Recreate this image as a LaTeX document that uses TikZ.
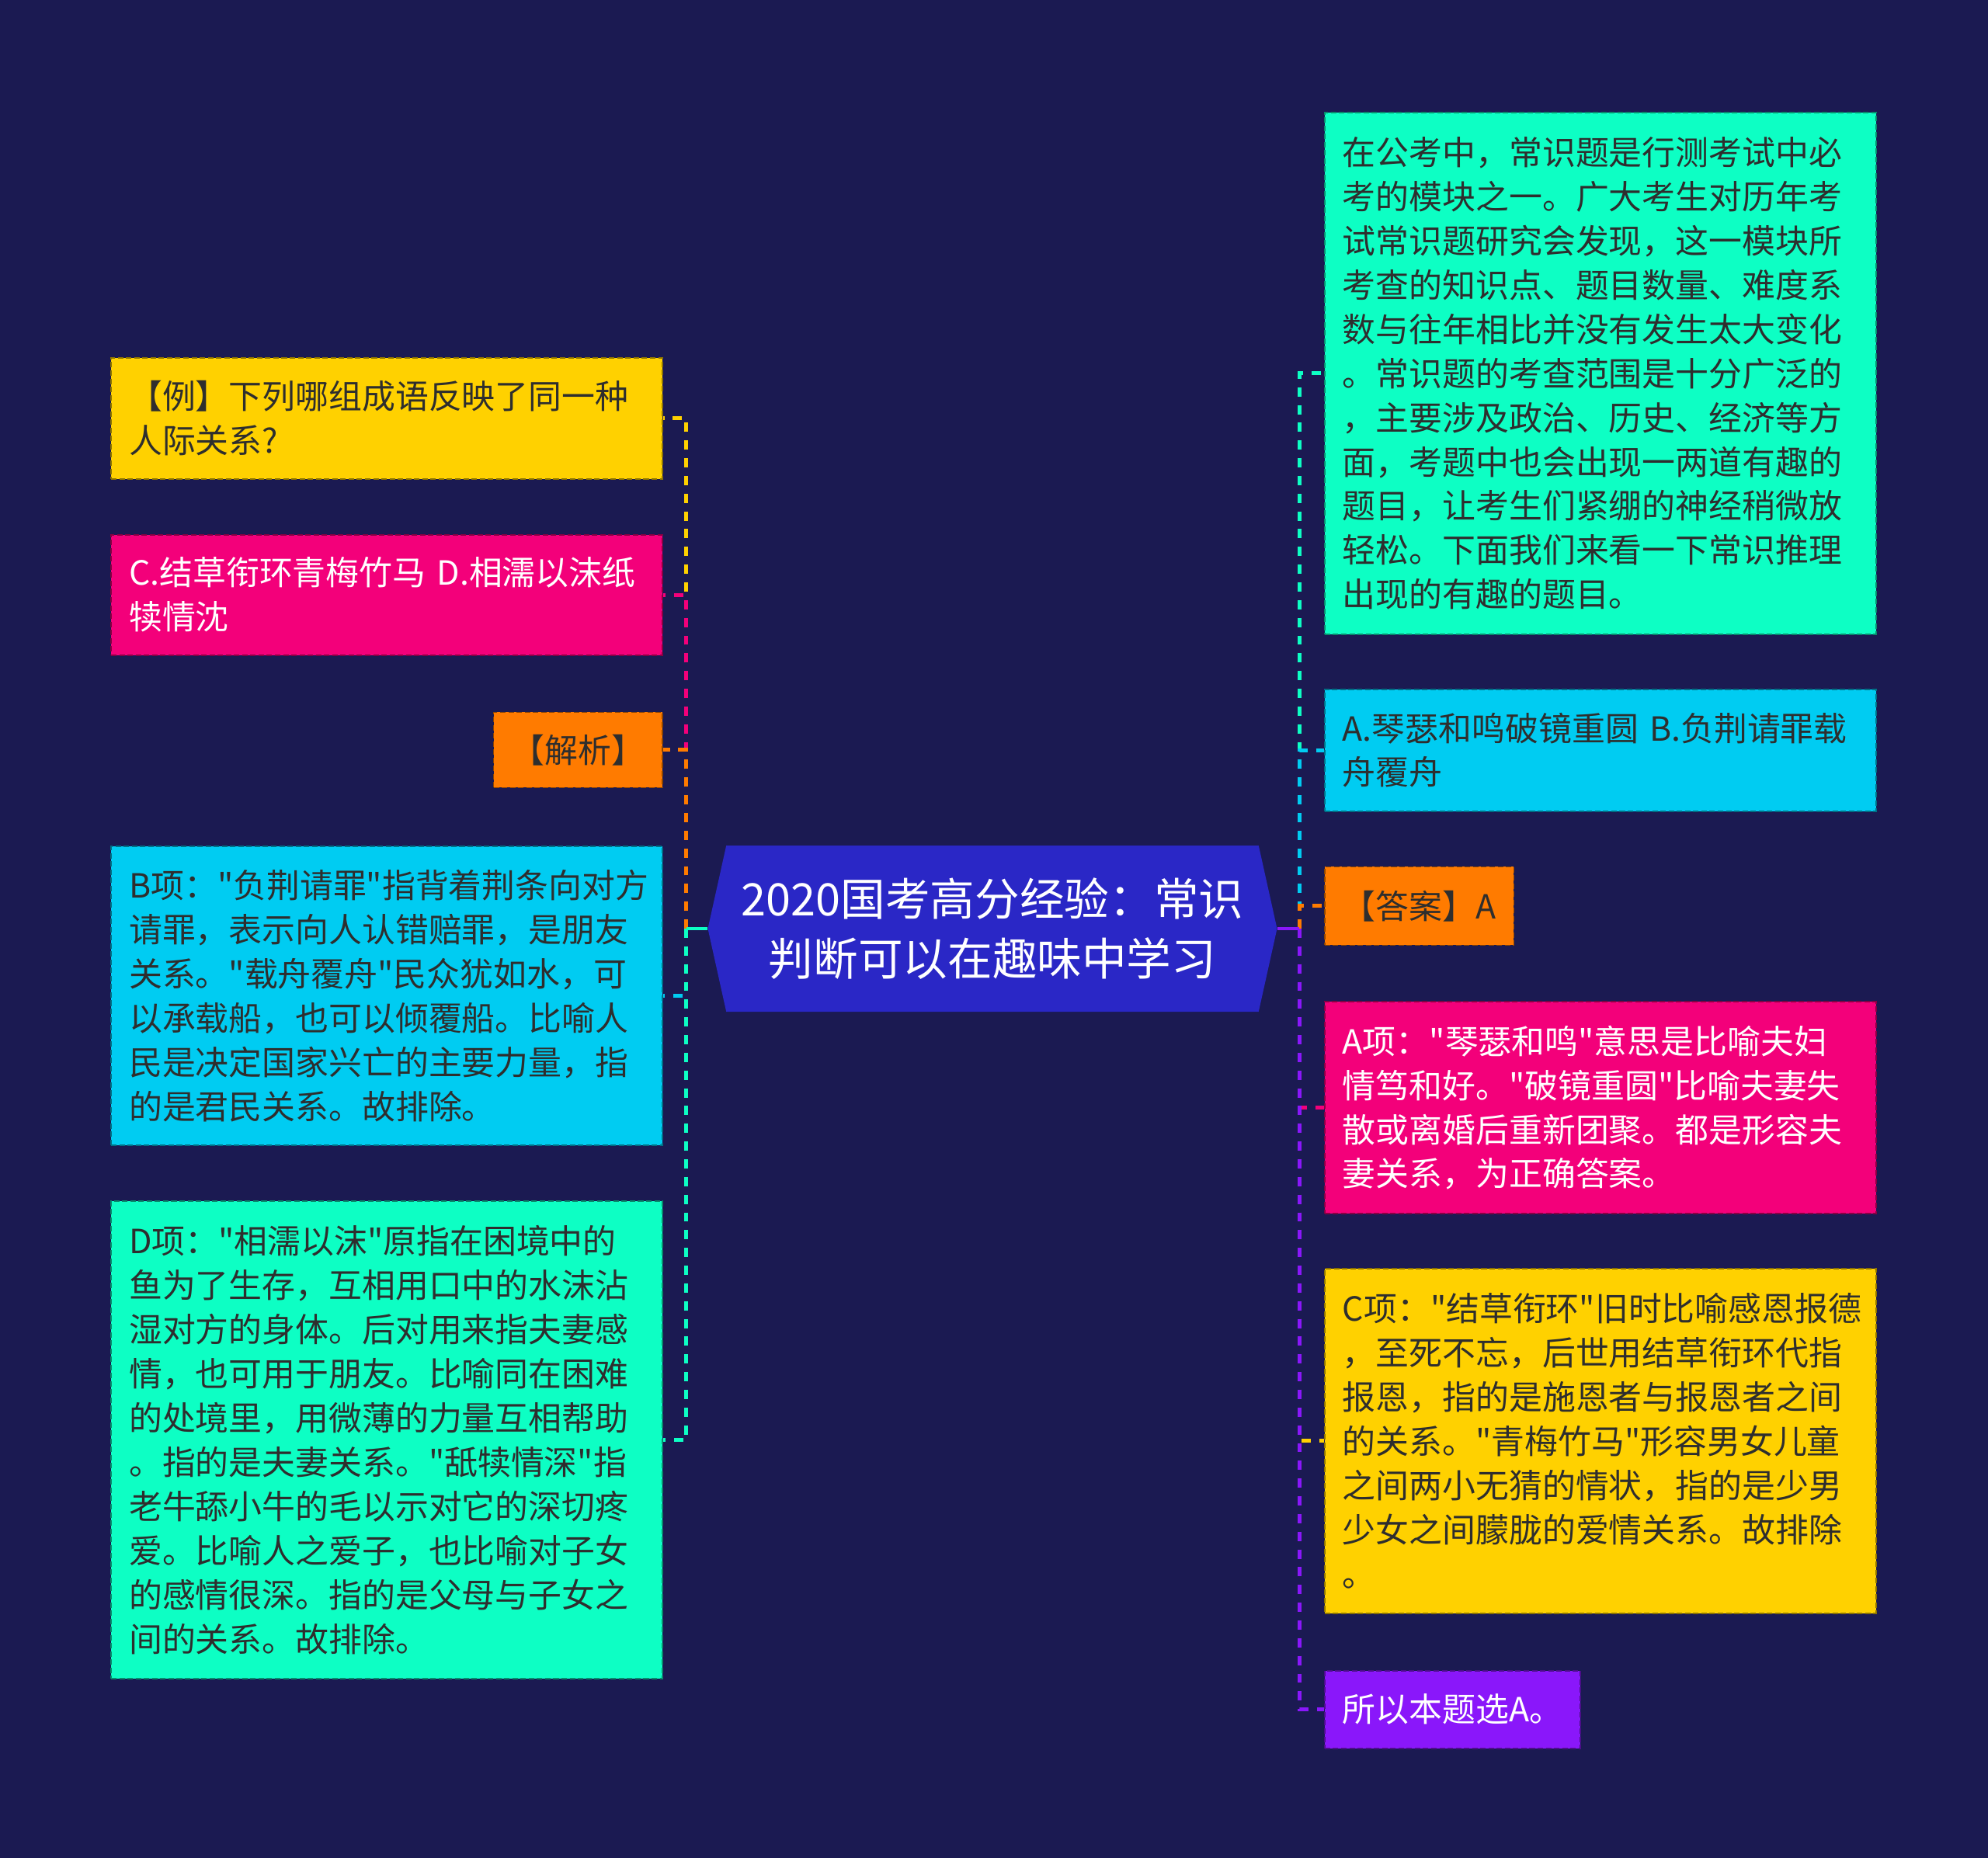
\documentclass[tikz,border=0pt]{standalone}
\usepackage{fontspec}
\newfontfamily\cjkfont{Noto Sans CJK SC}
\usetikzlibrary{positioning, shapes.symbols}
\definecolor{navy}{HTML}{1B1A52}
\definecolor{hubblue}{HTML}{2A27C6}
\definecolor{ylw}{HTML}{FFD100}
\definecolor{pnk}{HTML}{F3007A}
\definecolor{org}{HTML}{FF7B00}
\definecolor{cyn}{HTML}{00CCF2}
\definecolor{mnt}{HTML}{0DFFC4}
\definecolor{prp}{HTML}{8A17FA}
\definecolor{ink}{HTML}{2E2E2E}

\begin{document}
\begin{tikzpicture}[node distance=0.7cm]
\tikzstyle{card} = [rectangle, dash pattern=on 2pt off 1pt, line width=0.5pt, inner xsep=0.23cm, inner ysep=0.2cm, align=left, text=ink, font=\cjkfont\fontsize{12.2pt}{16.2pt}\selectfont]
\tikzstyle{wide} = [card, text width=6.64cm]
\tikzstyle{link} = [line width=1.4pt, dash pattern=on 3.4pt off 3.1pt]
\tikzstyle{stem} = [line width=1.4pt]

\fill[navy] (0,0) rectangle (25.6,-23.93);
\useasboundingbox (0,0) rectangle (25.6,-23.93);

\node (root) [shape=signal, signal to=east and west, signal pointer angle=155, fill=hubblue, minimum width=7.33cm, minimum height=2.14cm, text=white, align=center, font=\cjkfont\fontsize{16.4pt}{22.1pt}\selectfont] at (12.78,-11.96) {2020国考高分经验：常识\\判断可以在趣味中学习};

% Left branches
\node (ask) [wide, fill=ylw, draw=ylw!55!black, minimum height=1.56cm, anchor=north east] at (8.54,-4.60) {【例】下列哪组成语反映了同一种\\人际关系?};
\node (optcd) [wide, fill=pnk, draw=pnk!55!black, text=white, minimum height=1.55cm, below left=0.7cm and 0cm of ask.south east] {C.结草衔环青梅竹马 D.相濡以沫纸\\犊情沈};
\node (jiexi) [card, fill=org, draw=org!55!black, minimum height=0.97cm, below left=0.72cm and 0cm of optcd.south east] {【解析】};
\node (optb) [wide, fill=cyn, draw=cyn!55!black, minimum height=3.85cm, below left=0.74cm and 0cm of jiexi.south east] {B项："负荆请罪"指背着荆条向对方\\请罪，表示向人认错赔罪，是朋友\\关系。"载舟覆舟"民众犹如水，可\\以承载船，也可以倾覆船。比喻人\\民是决定国家兴亡的主要力量，指\\的是君民关系。故排除。};
\node (optd) [wide, fill=mnt, draw=mnt!55!black, minimum height=6.15cm, below left=0.70cm and 0cm of optb.south east] {D项："相濡以沫"原指在困境中的\\鱼为了生存，互相用口中的水沫沾\\湿对方的身体。后对用来指夫妻感\\情，也可用于朋友。比喻同在困难\\的处境里，用微薄的力量互相帮助\\。指的是夫妻关系。"舐犊情深"指\\老牛舔小牛的毛以示对它的深切疼\\爱。比喻人之爱子，也比喻对子女\\的感情很深。指的是父母与子女之\\间的关系。故排除。};

% Right branches
\node (intro) [wide, fill=mnt, draw=mnt!55!black, minimum height=6.72cm, anchor=north west] at (17.05,-1.44) {在公考中，常识题是行测考试中必\\考的模块之一。广大考生对历年考\\试常识题研究会发现，这一模块所\\考查的知识点、题目数量、难度系\\数与往年相比并没有发生太大变化\\。常识题的考查范围是十分广泛的\\，主要涉及政治、历史、经济等方\\面，考题中也会出现一两道有趣的\\题目，让考生们紧绷的神经稍微放\\轻松。下面我们来看一下常识推理\\出现的有趣的题目。};
\node (optab) [wide, fill=cyn, draw=cyn!55!black, minimum height=1.57cm, below right=0.69cm and 0cm of intro.south west] {A.琴瑟和鸣破镜重圆 B.负荆请罪载\\舟覆舟};
\node (answer) [card, fill=org, draw=org!55!black, minimum height=1.01cm, below right=0.70cm and 0cm of optab.south west] {【答案】A};
\node (whya) [wide, fill=pnk, draw=pnk!55!black, text=white, minimum height=2.73cm, below right=0.71cm and 0cm of answer.south west] {A项："琴瑟和鸣"意思是比喻夫妇\\情笃和好。"破镜重圆"比喻夫妻失\\散或离婚后重新团聚。都是形容夫\\妻关系，为正确答案。};
\node (whyc) [wide, fill=ylw, draw=ylw!55!black, minimum height=4.44cm, below right=0.69cm and 0cm of whya.south west] {C项："结草衔环"旧时比喻感恩报德\\，至死不忘，后世用结草衔环代指\\报恩，指的是施恩者与报恩者之间\\的关系。"青梅竹马"形容男女儿童\\之间两小无猜的情状，指的是少男\\少女之间朦胧的爱情关系。故排除\\。};
\node (pick) [card, fill=prp, draw=prp!55!black, text=white, minimum height=1.0cm, below right=0.72cm and 0cm of whyc.south west] {所以本题选A。};

% Connectors
\coordinate (lbus) at ([xshift=-0.27cm]root.west);
\coordinate (rbus) at ([xshift=0.28cm]root.east);
\draw[stem, ylw] (root.west) -- (lbus); \draw[link, ylw] (lbus) |- (ask.east);
\draw[stem, pnk] (root.west) -- (lbus); \draw[link, pnk] (lbus) |- (optcd.east);
\draw[stem, org] (root.west) -- (lbus); \draw[link, org] (lbus) |- (jiexi.east);
\draw[stem, cyn] (root.west) -- (lbus); \draw[link, cyn] (lbus) |- (optb.east);
\draw[stem, mnt] (root.west) -- (lbus); \draw[link, mnt] (lbus) |- (optd.east);
\draw[stem, mnt] (root.east) -- (rbus); \draw[link, mnt] (rbus) |- (intro.west);
\draw[stem, cyn] (root.east) -- (rbus); \draw[link, cyn] (rbus) |- (optab.west);
\draw[stem, org] (root.east) -- (rbus); \draw[link, org] (rbus) |- (answer.west);
\draw[stem, pnk] (root.east) -- (rbus); \draw[link, pnk] (rbus) |- (whya.west);
\draw[stem, ylw] (root.east) -- (rbus); \draw[link, ylw] (rbus) |- (whyc.west);
\draw[stem, prp] (root.east) -- (rbus); \draw[link, prp] (rbus) |- (pick.west);

\end{tikzpicture}
\end{document}
